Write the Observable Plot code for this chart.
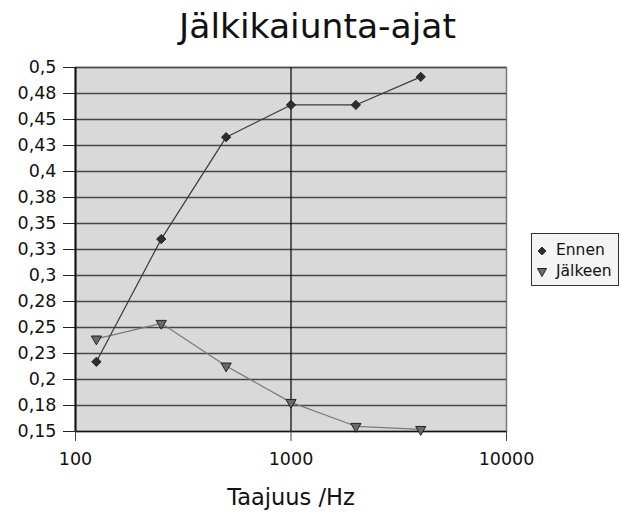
<!DOCTYPE html>
<html>
<head>
<meta charset="utf-8">
<script src="https://cdn.jsdelivr.net/npm/d3@7"></script>
<script src="https://cdn.jsdelivr.net/npm/@observablehq/plot@0.6"></script>
<style>
  html, body { margin: 0; padding: 0; background: #fff; }
  #wrap { position: relative; width: 621px; height: 513px; font-family: "DejaVu Sans", sans-serif; overflow: hidden; }
  #title { position: absolute; left: 7px; top: 1px; width: 621px; text-align: center; font-size: 34.5px; line-height: 50px; height: 50px; color: #111; }
  #chart { position: absolute; left: 0; top: 50px; }
  #legend { position: absolute; left: 531px; top: 233px; width: 86px; height: 51px; border: 1px solid #333; background: #f4f4f4; font-size: 15.5px; color: #111; }
  .row { position: absolute; left: 4px; height: 20px; line-height: 20px; white-space: nowrap; }
  .row svg { vertical-align: middle; margin-right: 8px; }
</style>
</head>
<body>
<div id="wrap">
  <div id="title">Jälkikaiunta-ajat</div>
  <div id="chart"></div>
  <div id="legend"></div>
</div>
<script>
const freqs = [125, 250, 500, 1000, 2000, 4000];
const ennen = [0.217, 0.335, 0.433, 0.464, 0.464, 0.491];
const jalkeen = [0.239, 0.254, 0.213, 0.178, 0.155, 0.152];
const seriesNames = ["Ennen", "Jälkeen"];
const yTicks = [0.15, 0.175, 0.2, 0.225, 0.25, 0.275, 0.3, 0.325, 0.35, 0.375, 0.4, 0.425, 0.45, 0.475, 0.5];
const yTickLabels = ["0,15", "0,18", "0,2", "0,23", "0,25", "0,28", "0,3", "0,33", "0,35", "0,38", "0,4", "0,43", "0,45", "0,48", "0,5"];
const xTicks = [100, 1000, 10000];
const xTickLabels = ["100", "1000", "10000"];

const dataE = freqs.map((f, i) => ({f, v: ennen[i]}));
const dataJ = freqs.map((f, i) => ({f, v: jalkeen[i]}));

const chart = Plot.plot({
  width: 621,
  height: 463,
  marginTop: 17,
  marginBottom: 82,
  marginLeft: 75,
  marginRight: 115,
  style: {fontFamily: "DejaVu Sans, sans-serif", background: "transparent", color: "#111"},
  x: {type: "log", domain: [100, 10000]},
  y: {domain: [0.15, 0.5]},
  marks: [
    Plot.frame({fill: "#d9d9d9", stroke: "#777", strokeWidth: 1.5}),
    Plot.ruleY(yTicks.slice(1), {stroke: "#474747", strokeWidth: 1.6}),
    Plot.ruleX([1000], {stroke: "#111", strokeWidth: 1.3}),
    Plot.ruleX([100], {stroke: "#111", strokeWidth: 2}),
    Plot.ruleY([0.15], {stroke: "#111", strokeWidth: 1.5}),
    Plot.axisY({ticks: yTicks, tickFormat: (d) => yTickLabels[yTicks.indexOf(d)], tickSize: 12, tickPadding: 7, fontSize: 17.5, label: null, stroke: "#222"}),
    Plot.axisX({ticks: xTicks, tickFormat: (d) => xTickLabels[xTicks.indexOf(d)], tickSize: 10, tickPadding: 11, fontSize: 17.5, label: null, stroke: "#444"}),
    Plot.text(["Taajuus /Hz"], {frameAnchor: "bottom", dy: 73, fontSize: 22.5, fill: "#111"}),
    Plot.line(dataJ, {x: "f", y: "v", stroke: "#7a7a7a", strokeWidth: 1.2}),
    Plot.line(dataE, {x: "f", y: "v", stroke: "#3a3a3a", strokeWidth: 1.2}),
    Plot.dot(dataE, {x: "f", y: "v", symbol: "diamond2", r: 4.2, fill: "#2e2e2e", stroke: "#111", strokeWidth: 0.8}),
    Plot.dot(dataJ, {x: "f", y: "v", symbol: "triangle", rotate: 180, r: 3.8, fill: "#6a6a6a", stroke: "#222", strokeWidth: 1})
  ]
});
document.getElementById("chart").appendChild(chart);

const legend = document.getElementById("legend");
const icons = [
  '<svg width="12" height="12" viewBox="-6 -6 12 12"><path d="M0,-4L4,0L0,4L-4,0Z" fill="#2e2e2e" stroke="#111" stroke-width="0.8"/></svg>',
  '<svg width="12" height="12" viewBox="-6 -6 12 12"><path d="M-4.5,-3.5L4.5,-3.5L0,4.5Z" fill="#6a6a6a" stroke="#222" stroke-width="1"/></svg>'
];
seriesNames.forEach((name, i) => {
  const row = document.createElement("div");
  row.className = "row";
  row.style.top = (6 + i * 21) + "px";
  row.innerHTML = icons[i] + name;
  legend.appendChild(row);
});
</script>
</body>
</html>
